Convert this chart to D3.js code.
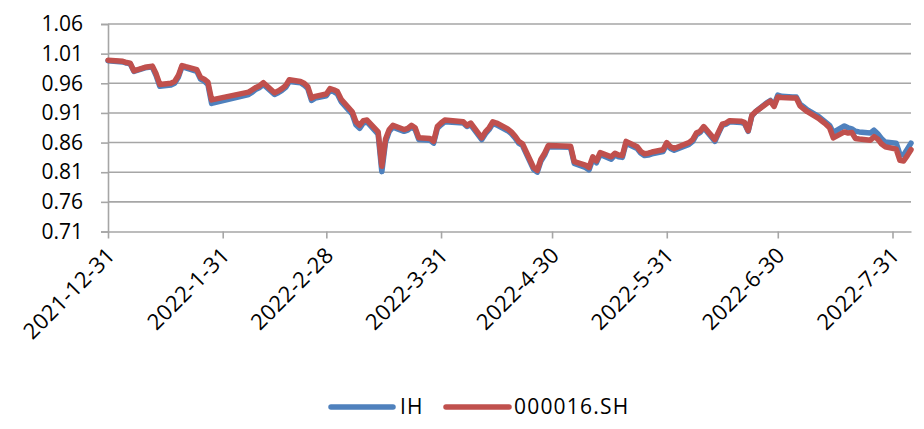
<!DOCTYPE html>
<html>
<head>
<meta charset="utf-8">
<script src="https://cdn.jsdelivr.net/npm/d3@7"></script>
<style>
html,body{margin:0;padding:0;background:#fff;}
svg{display:block;}
text{font-family:"Open Sans","Liberation Sans",sans-serif;fill:#000;}
</style>
</head>
<body>
<svg id="chart" width="924" height="429"></svg>
<script>
const dates = [
"2021-12-31","2022-01-04","2022-01-05","2022-01-06","2022-01-07","2022-01-10","2022-01-11","2022-01-12","2022-01-13","2022-01-14",
"2022-01-17","2022-01-18","2022-01-19","2022-01-20","2022-01-21","2022-01-24","2022-01-25","2022-01-26","2022-01-27","2022-01-28",
"2022-02-07","2022-02-08","2022-02-09","2022-02-10","2022-02-11","2022-02-14","2022-02-15","2022-02-16","2022-02-17","2022-02-18",
"2022-02-21","2022-02-22","2022-02-23","2022-02-24","2022-02-25","2022-02-28","2022-03-01","2022-03-02","2022-03-03","2022-03-04",
"2022-03-07","2022-03-08","2022-03-09","2022-03-10","2022-03-11","2022-03-14","2022-03-15","2022-03-16","2022-03-17","2022-03-18",
"2022-03-21","2022-03-22","2022-03-23","2022-03-24","2022-03-25","2022-03-28","2022-03-29","2022-03-30","2022-03-31","2022-04-01",
"2022-04-06","2022-04-07","2022-04-08","2022-04-11","2022-04-12","2022-04-13","2022-04-14","2022-04-15","2022-04-18","2022-04-19",
"2022-04-20","2022-04-21","2022-04-22","2022-04-25","2022-04-26","2022-04-27","2022-04-28","2022-04-29","2022-05-05","2022-05-06",
"2022-05-09","2022-05-10","2022-05-11","2022-05-12","2022-05-13","2022-05-16","2022-05-17","2022-05-18","2022-05-19","2022-05-20",
"2022-05-23","2022-05-24","2022-05-25","2022-05-26","2022-05-27","2022-05-30","2022-05-31","2022-06-01","2022-06-02","2022-06-06",
"2022-06-07","2022-06-08","2022-06-09","2022-06-10","2022-06-13","2022-06-14","2022-06-15","2022-06-16","2022-06-17","2022-06-20",
"2022-06-21","2022-06-22","2022-06-23","2022-06-24","2022-06-27","2022-06-28","2022-06-29","2022-06-30","2022-07-01","2022-07-04",
"2022-07-05","2022-07-06","2022-07-07","2022-07-08","2022-07-11","2022-07-12","2022-07-13","2022-07-14","2022-07-15","2022-07-18",
"2022-07-19","2022-07-20","2022-07-21","2022-07-22","2022-07-25","2022-07-26","2022-07-27","2022-07-28","2022-07-29","2022-08-01",
"2022-08-02","2022-08-03","2022-08-04","2022-08-05"
];
const ihValues = [
0.998,0.996,0.994,0.993,0.980,0.986,0.987,0.987,0.973,0.955,
0.957,0.960,0.970,0.988,0.986,0.980,0.967,0.964,0.958,0.926,
0.941,0.945,0.950,0.953,0.958,0.941,0.944,0.948,0.953,0.963,
0.961,0.957,0.951,0.931,0.935,0.939,0.948,0.946,0.942,0.929,
0.908,0.890,0.884,0.893,0.895,0.874,0.811,0.861,0.879,0.886,
0.879,0.881,0.886,0.882,0.865,0.864,0.859,0.884,0.890,0.895,
0.893,0.887,0.890,0.865,0.875,0.882,0.892,0.890,0.880,0.875,
0.868,0.859,0.855,0.815,0.810,0.829,0.839,0.853,0.852,0.825,
0.818,0.814,0.832,0.826,0.840,0.832,0.839,0.836,0.835,0.859,
0.850,0.842,0.838,0.839,0.841,0.845,0.857,0.850,0.847,0.857,
0.862,0.873,0.877,0.885,0.862,0.876,0.889,0.891,0.895,0.894,
0.892,0.879,0.905,0.912,0.927,0.931,0.923,0.940,0.938,0.937,
0.937,0.925,0.920,0.915,0.904,0.899,0.894,0.889,0.877,0.888,
0.885,0.883,0.879,0.878,0.876,0.881,0.875,0.867,0.861,0.859,
0.840,0.839,0.849,0.859
];
const sh16Values = [
0.999,0.997,0.995,0.994,0.981,0.987,0.988,0.989,0.976,0.958,
0.960,0.963,0.973,0.990,0.988,0.983,0.970,0.967,0.962,0.932,
0.945,0.949,0.953,0.956,0.961,0.944,0.947,0.951,0.956,0.966,
0.963,0.960,0.954,0.935,0.938,0.942,0.951,0.949,0.946,0.933,
0.912,0.895,0.889,0.897,0.898,0.878,0.820,0.866,0.882,0.889,
0.882,0.884,0.889,0.885,0.868,0.867,0.862,0.887,0.893,0.898,
0.895,0.889,0.893,0.868,0.878,0.885,0.895,0.893,0.883,0.878,
0.871,0.862,0.858,0.818,0.813,0.832,0.842,0.855,0.854,0.828,
0.822,0.818,0.836,0.829,0.843,0.836,0.842,0.839,0.838,0.862,
0.853,0.845,0.841,0.842,0.844,0.848,0.860,0.853,0.850,0.860,
0.865,0.876,0.879,0.887,0.865,0.878,0.891,0.893,0.897,0.896,
0.894,0.880,0.906,0.912,0.926,0.930,0.921,0.937,0.936,0.935,
0.935,0.922,0.917,0.912,0.901,0.896,0.891,0.885,0.868,0.878,
0.876,0.877,0.867,0.866,0.864,0.870,0.866,0.858,0.853,0.849,
0.830,0.829,0.838,0.848
];
const yTicks = [0.71,0.76,0.81,0.86,0.91,0.96,1.01,1.06];
const xTickDates = ["2021-12-31","2022-01-31","2022-02-28","2022-03-31","2022-04-30","2022-05-31","2022-06-30","2022-07-31"];
const xTickLabels = ["2021-12-31","2022-1-31","2022-2-28","2022-3-31","2022-4-30","2022-5-31","2022-6-30","2022-7-31"];
const seriesNames = ["IH","000016.SH"];
const seriesColors = ["#4F81BD","#C0504D"];

const parse = d3.utcParse("%Y-%m-%d");
const svg = d3.select("#chart");
const plot = {left:108, right:911, top:24, bottom:231.5};

const x = d3.scaleUtc()
  .domain([parse(dates[0]), parse(dates[dates.length-1])])
  .range([plot.left, plot.right]);
const y = d3.scaleLinear().domain([0.71,1.06]).range([plot.bottom, plot.top]);

// gridlines
svg.append("g").selectAll("line").data(yTicks.slice(1)).join("line")
  .attr("x1", plot.left).attr("x2", plot.right)
  .attr("y1", d=>y(d)).attr("y2", d=>y(d))
  .attr("stroke","#a6a6a6").attr("stroke-width",1.6);

// y axis
const yAxis = d3.axisLeft(y).tickValues(yTicks).tickFormat(d3.format(".2f")).tickSize(7).tickPadding(18);
const gy = svg.append("g").attr("transform",`translate(${plot.left},0)`).call(yAxis);
gy.select(".domain").attr("stroke","#a6a6a6").attr("stroke-width",1.6);
gy.selectAll(".tick line").attr("stroke","#a6a6a6").attr("stroke-width",1.6);
gy.selectAll("text").style("font-size","21px").attr("fill","#000");

// x axis
const xAxis = d3.axisBottom(x).tickValues(xTickDates.map(parse))
  .tickFormat((d,i)=>xTickLabels[i]).tickSize(7).tickSizeOuter(0);
const gx = svg.append("g").attr("transform",`translate(0,${plot.bottom})`).call(xAxis);
gx.select(".domain").attr("stroke","#a6a6a6").attr("stroke-width",1.6);
gx.selectAll(".tick line").attr("stroke","#a6a6a6").attr("stroke-width",1.6);
gx.selectAll("text").style("font-size","22px").attr("fill","#000")
  .attr("text-anchor","end").attr("dy",null).attr("y",null)
  .style("letter-spacing","0.4px")
  .attr("transform","translate(8,25) rotate(-45)");

// lines
const line = d3.line().x(d=>x(d.date)).y(d=>y(d.v));
const seriesData = [ihValues, sh16Values].map(vals => vals.map((v,i)=>({date:parse(dates[i]), v})));
svg.append("g").selectAll("path").data(seriesData).join("path")
  .attr("d", line).attr("fill","none")
  .attr("stroke",(d,i)=>seriesColors[i]).attr("stroke-width",5.5)
  .attr("stroke-linejoin","round").attr("stroke-linecap","round");

// legend
const legendItems = [{x1:331,x2:393,tx:400},{x1:446,x2:509,tx:514}];
const lg = svg.append("g");
legendItems.forEach((it,i)=>{
  lg.append("line").attr("x1",it.x1).attr("x2",it.x2).attr("y1",407).attr("y2",407)
    .attr("stroke",seriesColors[i]).attr("stroke-width",5.5).attr("stroke-linecap","round");
  lg.append("text").attr("x",it.tx).attr("y",407).attr("dy","0.35em")
    .style("font-size","21px").style("letter-spacing","1.2px").text(seriesNames[i]);
});
</script>
</body>
</html>
